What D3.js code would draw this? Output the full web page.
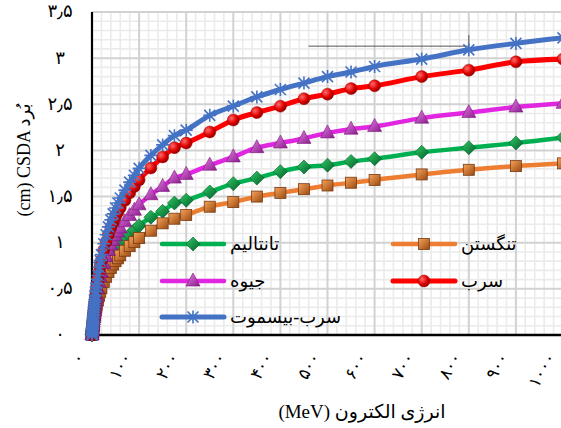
<!DOCTYPE html>
<html>
<head>
<meta charset="utf-8">
<script src="https://cdn.jsdelivr.net/npm/d3@7"></script>
<style>
  html, body { margin: 0; padding: 0; background: #fff; }
  svg { display: block; }
</style>
</head>
<body>
<div id="chart"></div>
<script>
// energies (MeV)
const energy = [0.01, 0.1, 0.25, 0.5, 0.75, 1, 1.25, 1.5, 1.75, 2, 2.5, 3, 3.5, 4, 4.5, 5, 5.5, 6, 7, 8, 9, 10,
  12.5, 15, 17.5, 20, 25, 30, 35, 40, 45, 50, 55, 60, 70, 80, 90, 100, 125, 150, 175, 200, 250, 300, 350,
  400, 450, 500, 550, 600, 700, 800, 900, 1000]

// CSDA range (cm)
const tantalum = [0.0001, 0.002, 0.008, 0.021, 0.035, 0.049, 0.061, 0.073, 0.085, 0.097, 0.118, 0.14, 0.16, 0.18, 0.198,
  0.216, 0.233, 0.25, 0.282, 0.31, 0.338, 0.363, 0.423, 0.479, 0.529, 0.571, 0.649, 0.712, 0.768, 0.818, 0.86, 0.902,
  0.938, 0.973, 1.029, 1.086, 1.135, 1.184, 1.276, 1.34, 1.43, 1.46, 1.55, 1.64, 1.70, 1.77, 1.82, 1.84, 1.88, 1.91,
  1.98, 2.03, 2.08, 2.14]
const tungsten = [0.0001, 0.002, 0.008, 0.019, 0.031, 0.043, 0.054, 0.064, 0.075, 0.086, 0.105, 0.124, 0.142, 0.159,
  0.176, 0.192, 0.207, 0.222, 0.25, 0.275, 0.30, 0.322, 0.375, 0.425, 0.469, 0.506, 0.575, 0.631, 0.681, 0.725, 0.763,
  0.80, 0.831, 0.863, 0.913, 0.963, 1.006, 1.05, 1.13, 1.21, 1.26, 1.30, 1.39, 1.44, 1.50, 1.54, 1.58, 1.62, 1.65,
  1.68, 1.74, 1.79, 1.83, 1.86]
const mercury = [0.0001, 0.0025, 0.010, 0.025, 0.042, 0.058, 0.072, 0.087, 0.101, 0.115, 0.141, 0.166, 0.191, 0.214,
  0.236, 0.258, 0.278, 0.298, 0.336, 0.37, 0.403, 0.433, 0.504, 0.571, 0.63, 0.68, 0.773, 0.848, 0.916, 0.974, 1.025,
  1.075, 1.117, 1.159, 1.226, 1.294, 1.352, 1.411, 1.52, 1.61, 1.70, 1.74, 1.84, 1.93, 2.03, 2.08, 2.13, 2.19, 2.23,
  2.26, 2.35, 2.41, 2.47, 2.51]
const lead = [0.0001, 0.003, 0.012, 0.03, 0.05, 0.069, 0.086, 0.103, 0.12, 0.137, 0.168, 0.198, 0.227, 0.255, 0.281,
  0.307, 0.331, 0.355, 0.40, 0.44, 0.48, 0.515, 0.60, 0.68, 0.75, 0.81, 0.92, 1.01, 1.09, 1.16, 1.22, 1.28, 1.33,
  1.38, 1.46, 1.54, 1.61, 1.68, 1.81, 1.93, 2.03, 2.08, 2.20, 2.33, 2.41, 2.48, 2.56, 2.61, 2.67, 2.70, 2.80, 2.87,
  2.96, 2.99]
const leadBismuth = [0.0001, 0.003, 0.013, 0.032, 0.054, 0.074, 0.092, 0.111, 0.129, 0.147, 0.181, 0.213, 0.244,
  0.274, 0.302, 0.330, 0.356, 0.382, 0.43, 0.473, 0.516, 0.554, 0.645, 0.731, 0.806, 0.871, 0.989, 1.086, 1.172,
  1.247, 1.312, 1.376, 1.430, 1.484, 1.570, 1.656, 1.731, 1.806, 1.946, 2.06, 2.16, 2.22, 2.38, 2.48, 2.58, 2.66,
  2.73, 2.80, 2.85, 2.91, 2.99, 3.09, 3.16, 3.22]

const seriesNames = ['تانتالیم', 'تنگستن', 'جیوه', 'سرب', 'سرب-بیسموت']
const xTickValues = [0, 100, 200, 300, 400, 500, 600, 700, 800, 900, 1000]
const xTickLabels = ['۰', '۱۰۰', '۲۰۰', '۳۰۰', '۴۰۰', '۵۰۰', '۶۰۰', '۷۰۰', '۸۰۰', '۹۰۰', '۱۰۰۰']
const yTickValues = [0, 0.5, 1, 1.5, 2, 2.5, 3, 3.5]
const yTickLabels = ['۰', '۰٫۵', '۱', '۱٫۵', '۲', '۲٫۵', '۳', '۳٫۵']
// stray annotation line in the original figure (data coords)
const noteLine = { x1: 460, x2: 800, y: 3.13, yTop: 3.25 }

const W = 561, H = 428
const margin = { top: 12, left: 92 }
const plotW = 471, plotH = 323

const svg = d3.select('#chart').append('svg').attr('width', W).attr('height', H)
const defs = svg.append('defs')

const x = d3.scaleLinear().domain([0, 1000]).range([margin.left, margin.left + plotW])
const y = d3.scaleLinear().domain([0, 3.5]).range([margin.top + plotH, margin.top])

// gradients for the bevelled markers
function linGrad(id, c1, c2) {
  const g = defs.append('linearGradient').attr('id', id)
    .attr('x1', 0).attr('y1', 0).attr('x2', 1).attr('y2', 1)
  g.append('stop').attr('offset', '0%').attr('stop-color', c1)
  g.append('stop').attr('offset', '100%').attr('stop-color', c2)
}
linGrad('gSq', '#f6a35a', '#9a4a12')
linGrad('gDi', '#33cc66', '#00602a')
linGrad('gTri', '#e77ee7', '#8a1c8a')
const rg = defs.append('radialGradient').attr('id', 'gCi').attr('cx', '35%').attr('cy', '35%').attr('r', '70%')
rg.append('stop').attr('offset', '0%').attr('stop-color', '#ff6a6a')
rg.append('stop').attr('offset', '60%').attr('stop-color', '#e00000')
rg.append('stop').attr('offset', '100%').attr('stop-color', '#8a0000')

const series = [
  { name: seriesNames[0], values: tantalum, color: '#00b050', marker: 'diamond', lw: 4.5 },
  { name: seriesNames[1], values: tungsten, color: '#ed7d31', marker: 'square', lw: 4.5 },
  { name: seriesNames[2], values: mercury, color: '#e026e0', marker: 'triangle', lw: 4.5 },
  { name: seriesNames[3], values: lead, color: '#ff0000', marker: 'circle', lw: 5 },
  { name: seriesNames[4], values: leadBismuth, color: '#4472c4', marker: 'star', lw: 5 },
]

// grid
const grid = svg.append('g')
d3.range(0, 1001, 20).filter((v) => v % 100 !== 0).forEach((v) => {
  grid.append('line').attr('x1', x(v)).attr('x2', x(v)).attr('y1', y(3.5)).attr('y2', y(0))
    .attr('stroke', '#ebebeb').attr('stroke-width', 1.6)
})
d3.range(0, 36).map((i) => i / 10).filter((v, i) => i % 5 !== 0).forEach((v) => {
  grid.append('line').attr('x1', x(0)).attr('x2', W).attr('y1', y(v)).attr('y2', y(v))
    .attr('stroke', '#ebebeb').attr('stroke-width', 1.6)
})
xTickValues.forEach((v) => {
  grid.append('line').attr('x1', x(v)).attr('x2', x(v)).attr('y1', y(3.5)).attr('y2', y(0))
    .attr('stroke', '#d2d2d2').attr('stroke-width', 2)
})
yTickValues.forEach((v) => {
  grid.append('line').attr('x1', x(0)).attr('x2', W).attr('y1', y(v)).attr('y2', y(v))
    .attr('stroke', '#d2d2d2').attr('stroke-width', 2)
})

// axes lines
svg.append('line').attr('x1', x(0)).attr('x2', x(0)).attr('y1', y(3.5)).attr('y2', y(0))
  .attr('stroke', '#000').attr('stroke-width', 2.2)
svg.append('line').attr('x1', x(0)).attr('x2', W).attr('y1', y(0)).attr('y2', y(0))
  .attr('stroke', '#000').attr('stroke-width', 2.5)

const serif = "'Times New Roman', 'Liberation Serif', 'DejaVu Sans', serif"

// tick labels
svg.append('g').selectAll('text').data(yTickValues).join('text')
  .attr('x', 60).attr('y', (d) => y(d)).attr('dy', '0.3em')
  .attr('text-anchor', 'middle').attr('font-family', serif).attr('font-size', 18)
  .text((d, i) => yTickLabels[i])

svg.append('g').selectAll('text').data(xTickValues).join('text')
  .attr('transform', (d) => `translate(${x(d) - 7},${y(0) + 22}) rotate(-60)`)
  .attr('text-anchor', 'end').attr('font-family', serif).attr('font-size', 17)
  .attr('letter-spacing', 2)
  .text((d, i) => xTickLabels[i])

// axis titles
svg.append('text').attr('x', 362).attr('y', 418).attr('text-anchor', 'middle')
  .attr('font-family', serif).attr('font-size', 19).attr('direction', 'ltr')
  .text('(MeV) انرژی الکترون')
svg.append('text').attr('transform', 'translate(30,160) rotate(-90)').attr('text-anchor', 'middle')
  .attr('font-family', serif).attr('font-size', 18).attr('direction', 'ltr')
  .text('(cm) CSDA بُرد')

// stray annotation
svg.append('line').attr('x1', x(noteLine.x1)).attr('x2', x(noteLine.x2))
  .attr('y1', y(noteLine.y)).attr('y2', y(noteLine.y)).attr('stroke', '#555').attr('stroke-width', 1)
svg.append('line').attr('x1', x(noteLine.x2)).attr('x2', x(noteLine.x2))
  .attr('y1', y(noteLine.y)).attr('y2', y(noteLine.yTop)).attr('stroke', '#555').attr('stroke-width', 1)

function drawMarker(g, type, cx, cy) {
  if (type === 'square') {
    g.append('rect').attr('x', cx - 5.5).attr('y', cy - 5.5).attr('width', 11).attr('height', 11)
      .attr('fill', 'url(#gSq)').attr('stroke', '#7a3a10').attr('stroke-width', 0.8)
  } else if (type === 'diamond') {
    g.append('path').attr('d', `M${cx},${cy - 7}L${cx + 7},${cy}L${cx},${cy + 7}L${cx - 7},${cy}Z`)
      .attr('fill', 'url(#gDi)').attr('stroke', '#005a24').attr('stroke-width', 0.6)
  } else if (type === 'triangle') {
    g.append('path').attr('d', `M${cx},${cy - 8}L${cx + 7},${cy + 5}L${cx - 7},${cy + 5}Z`)
      .attr('fill', 'url(#gTri)').attr('stroke', '#7a147a').attr('stroke-width', 0.6)
  } else if (type === 'circle') {
    g.append('circle').attr('cx', cx).attr('cy', cy).attr('r', 6)
      .attr('fill', 'url(#gCi)').attr('stroke', '#a00000').attr('stroke-width', 0.5)
  } else {
    const s = 5.5
    g.append('path')
      .attr('d', `M${cx - s},${cy - s}L${cx + s},${cy + s}M${cx - s},${cy + s}L${cx + s},${cy - s}M${cx},${cy - s - 1}L${cx},${cy + s + 1}M${cx - s - 1},${cy}L${cx + s + 1},${cy}`)
      .attr('stroke', '#4472c4').attr('stroke-width', 1.6).attr('fill', 'none')
  }
}

// series
const lineGen = d3.line().x((d) => x(d[0])).y((d) => y(d[1])).curve(d3.curveMonotoneX)
series.forEach((s) => {
  const pts = energy.map((e, i) => [e, s.values[i]])
  const g = svg.append('g')
  g.append('path').attr('d', lineGen(pts)).attr('fill', 'none')
    .attr('stroke', s.color).attr('stroke-width', s.lw).attr('stroke-linecap', 'round')
  pts.forEach((p) => drawMarker(g, s.marker, x(p[0]), y(p[1])))
})

// legend (two columns)
const legendPos = [
  { lx: 162, ly: 244 }, // tantalum
  { lx: 393, ly: 244 }, // tungsten
  { lx: 162, ly: 281 }, // mercury
  { lx: 393, ly: 281 }, // lead
  { lx: 162, ly: 317 }, // lead-bismuth
]
series.forEach((s, i) => {
  const p = legendPos[i]
  const g = svg.append('g')
  g.append('line').attr('x1', p.lx).attr('x2', p.lx + 62).attr('y1', p.ly).attr('y2', p.ly)
    .attr('stroke', s.color).attr('stroke-width', s.lw).attr('stroke-linecap', 'round')
  drawMarker(g, s.marker, p.lx + 31, p.ly)
  g.append('text').attr('x', p.lx + 68).attr('y', p.ly).attr('dy', '0.32em')
    .attr('font-family', serif).attr('font-size', 18).text(s.name)
})
</script>
</body>
</html>
